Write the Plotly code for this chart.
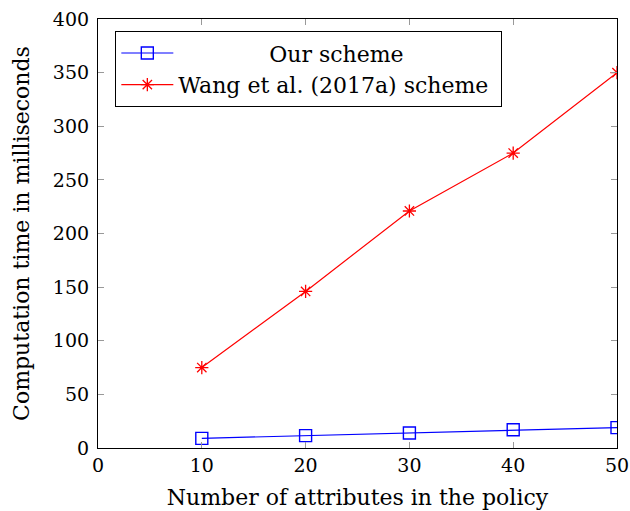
import plotly.graph_objects as go

attributes = [10, 20, 30, 40, 50]
our_scheme = [9, 11.5, 14, 17, 19]
wang_scheme = [75, 146, 221, 275, 350]
x_ticks = [0, 10, 20, 30, 40, 50]
y_ticks = [0, 50, 100, 150, 200, 250, 300, 350, 400]
series_names = ["\u00a0" * 13 + "Our scheme", "Wang et al. (2017a) scheme\u00a0"]

FONT = "DejaVu Serif"

fig = go.Figure()
fig.add_trace(go.Scatter(
    x=attributes, y=our_scheme, mode="lines+markers", name=series_names[0],
    line=dict(color="#0000ff", width=1.2),
    marker=dict(symbol="square-open", size=12, color="#0000ff", line=dict(width=1.4)),
))
fig.add_trace(go.Scatter(
    x=attributes, y=wang_scheme, mode="lines+markers", name=series_names[1],
    line=dict(color="#ff0000", width=1.2),
    marker=dict(symbol="asterisk-open", size=11, color="#ff0000", line=dict(width=1.3, color="#ff0000")),
))

axis_common = dict(
    showline=True, linecolor="black", linewidth=1.2, mirror="ticks",
    ticks="inside", ticklen=6, tickcolor="#999999", tickwidth=1,
    showgrid=False, zeroline=False, automargin=False,
    tickfont=dict(family=FONT, size=19, color="black"),
)

fig.update_layout(
    width=630, height=511,
    margin=dict(l=98, r=13, t=19, b=63),
    paper_bgcolor="white", plot_bgcolor="white",
    font=dict(family=FONT, size=19, color="black"),
    showlegend=True,
    legend=dict(
        x=0.033, y=0.972, xanchor="left", yanchor="top",
        bordercolor="black", borderwidth=1.2, bgcolor="white",
        font=dict(family=FONT, size=22),
        itemwidth=52, tracegroupgap=0,
    ),
    xaxis=dict(range=[0, 50], tickvals=x_ticks,
               title=dict(text="Number of attributes in the policy", font=dict(family=FONT, size=22), standoff=14),
               **axis_common),
    yaxis=dict(range=[0, 400], tickvals=y_ticks, ticklabelstandoff=4,
               title=dict(text="Computation time in milliseconds", font=dict(family=FONT, size=22), standoff=17),
               **axis_common),
)

fig.write_html("out.html", config={"displayModeBar": False},
               post_script="document.body.style.margin='0';document.body.style.overflow='hidden';")
